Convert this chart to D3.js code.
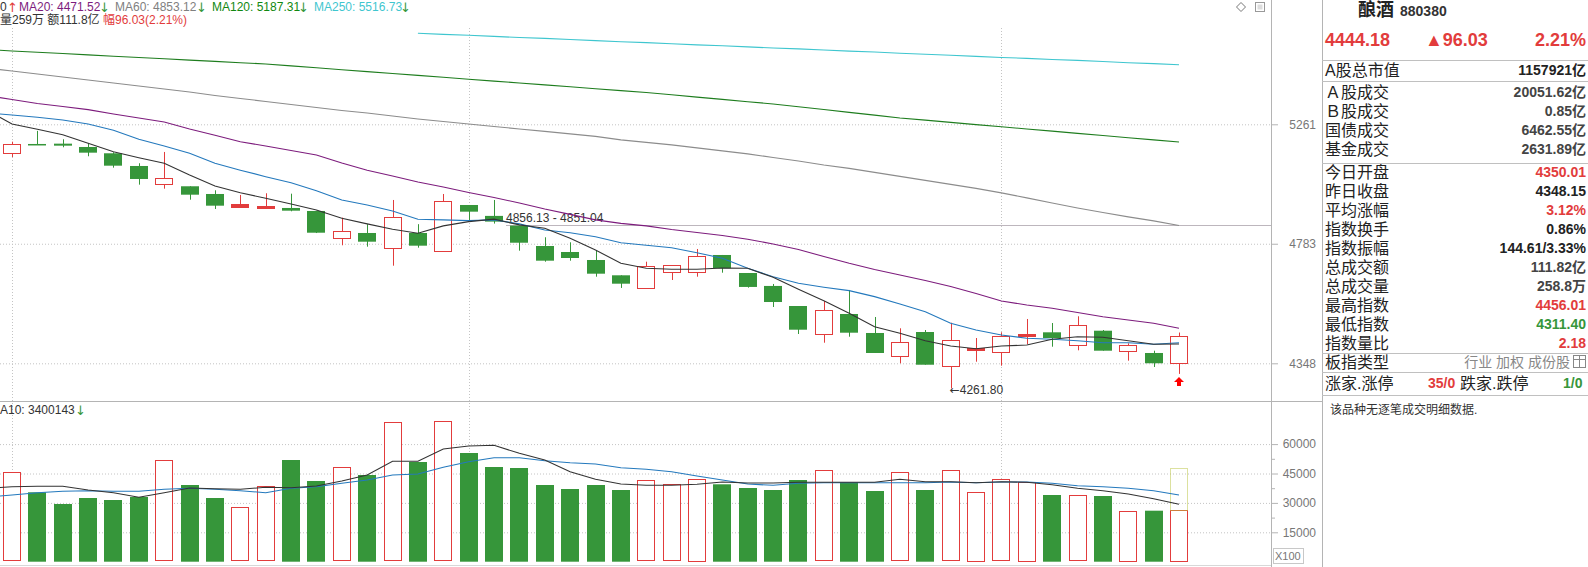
<!DOCTYPE html>
<html>
<head>
<meta charset="utf-8">
<script src="https://cdn.jsdelivr.net/npm/d3@7"></script>
<style>
  body { margin: 0; background: #fff; overflow: hidden; }
  svg { display: block; font-family: "Liberation Sans", "Noto Sans CJK SC", sans-serif; }
</style>
</head>
<body>
<div id="chart"></div>
<script>
const W = 1588, H = 567;

// daily candles, index 0 = oldest visible day, 46 = today
const opens  = [5140.8,5179.1,5180.4,5166.7,5140.8,5089.0,5015.3,5007.3,4976.6,4926.5,4918.6,4921.4,4909.6,4806.1,4824.2,4765.7,4824.2,4754.3,4933.1,4890.4,4852.7,4774.4,4751.6,4721.4,4664.1,4614.6,4673.8,4675.3,4740.3,4672.7,4624.7,4551.3,4448.3,4522.4,4454.4,4370.9,4457.9,4337.6,4394.4,4386.3,4441.2,4456.8,4409.5,4462.5,4389.8,4383.9,4350.01];
const highs  = [5188.6,5233.5,5198.6,5182.0,5144.9,5100.0,5146.2,5007.3,4991.3,4972.7,4979.4,4977.8,4910.5,4883.8,4858.2,4952.9,4858.2,4976.6,4933.1,4952.9,4852.7,4807.7,4788.5,4755.4,4664.1,4715.0,4701.5,4763.0,4740.3,4672.7,4632.0,4551.3,4569.5,4609.9,4511.6,4471.1,4465.0,4491.1,4436.6,4456.8,4504.4,4490.0,4514.1,4465.0,4417.9,4391.9,4456.01];
const lows   = [5125.3,5177.0,5165.5,5128.6,5082.1,5013.7,4997.7,4954.0,4917.4,4922.5,4918.6,4908.4,4824.0,4777.1,4771.8,4700.0,4768.0,4754.3,4872.1,4860.5,4756.6,4715.0,4718.8,4658.9,4617.3,4614.6,4646.7,4658.9,4673.8,4618.4,4547.7,4450.8,4420.0,4441.2,4383.9,4348.0,4343.1,4261.8,4353.5,4339.7,4415.4,4405.9,4393.3,4391.9,4357.1,4335.2,4311.40];
const closes = [5179.1,5177.0,5172.1,5143.3,5090.2,5036.5,5039.3,4973.8,4930.4,4937.1,4928.0,4910.8,4825.3,4831.9,4790.8,4885.4,4775.6,4947.7,4906.9,4868.2,4786.9,4718.8,4728.9,4670.1,4633.0,4697.7,4701.5,4735.4,4690.3,4621.0,4565.8,4466.1,4535.7,4455.4,4383.9,4421.4,4343.1,4428.5,4401.4,4442.7,4449.7,4436.6,4481.8,4391.9,4410.9,4348.15,4444.18];
// volume in units of 100 (axis says X100)
const volumes = [45612,35408,29439,32500,31480,33010,51735,39133,32500,27755,38469,51888,41174,48163,44235,71122,50868,71633,55459,48316,47806,39133,37092,39133,36582,41531,39490,42194,39490,37602,36582,41684,46633,40510,36071,45612,36582,46633,35561,42041,40816,34031,33877,33520,25867,26020,26378];
const todayEstimate = 47653;

// moving averages, first value belongs to the day before the visible range (index -1)
const ma5   = [5321.5,5262.4,5240.2,5217.7,5182.0,5147.4,5122.8,5100.0,5052.6,5008.5,4981.8,4959.6,4937.1,4913.5,4881.5,4859.3,4838.4,4823.0,4851.6,4868.2,4877.6,4855.5,4842.3,4803.8,4759.2,4709.0,4690.3,4686.5,4686.5,4691.4,4690.3,4656.7,4612.3,4570.6,4524.9,4476.8,4453.3,4427.1,4408.4,4398.9,4408.4,4411.9,4432.0,4441.2,4439.1,4427.1,4414.4,4415.4];
const ma10  = [5308.8,5300.3,5290.6,5279.2,5262.4,5236.4,5198.6,5170.9,5140.8,5100.0,5072.0,5045.8,5021.7,4989.7,4952.9,4933.1,4909.6,4877.6,4874.9,4872.1,4874.9,4859.3,4835.7,4825.3,4810.0,4786.9,4777.1,4768.0,4748.9,4727.8,4690.3,4658.9,4634.5,4619.9,4607.4,4585.4,4558.6,4530.7,4488.9,4465.0,4447.3,4435.6,4432.0,4427.1,4420.0,4420.0,4414.4,4420.0];
const ma20  = [5383.4,5366.2,5349.1,5336.4,5322.8,5304.5,5287.6,5270.8,5241.5,5215.6,5188.6,5170.9,5152.3,5133.9,5101.2,5072.0,5048.6,5024.5,5004.5,4982.6,4962.7,4941.0,4917.4,4896.3,4874.9,4861.3,4851.6,4837.7,4826.1,4814.6,4800.0,4782.1,4761.1,4734.6,4709.0,4685.8,4665.3,4644.8,4622.8,4597.1,4569.5,4554.9,4543.0,4527.8,4512.6,4500.8,4488.9,4471.52];
const ma60  = [5502.6,5489.5,5476.4,5463.3,5450.2,5437.2,5424.2,5411.3,5398.4,5383.4,5370.5,5357.7,5344.9,5332.1,5319.4,5308.8,5296.1,5283.4,5272.9,5262.4,5251.9,5241.5,5231.4,5221.0,5210.6,5196.1,5185.7,5175.4,5163.0,5150.7,5138.4,5123.6,5109.4,5093.1,5079.3,5063.1,5047.0,5030.9,5014.9,4998.9,4981.0,4961.2,4941.0,4921.4,4903.7,4886.5,4871.0,4853.12];
const ma120 = [5584.5,5577.8,5572.0,5566.3,5560.5,5554.7,5549.0,5543.2,5537.4,5531.7,5526.0,5520.2,5511.9,5503.5,5495.2,5486.9,5478.5,5470.2,5462.0,5453.7,5445.4,5437.2,5429.0,5420.7,5412.5,5404.3,5396.1,5386.3,5376.4,5366.7,5356.8,5347.0,5335.1,5323.2,5311.3,5299.5,5287.6,5278.4,5269.1,5259.8,5250.6,5241.5,5232.3,5223.1,5213.9,5204.8,5196.1,5187.31];
// ma250 only starts at day 16
const ma250 = [5657,5652,5648,5643,5638,5634,5629,5624,5619,5615,5610,5605,5601,5596,5591,5587,5582,5577,5573,5568,5563,5559,5554,5549,5545,5540,5536,5531,5526,5522,5516.73];
const volMa5  = [37347,38265,38469,38469,36581,35204,32857,35204,37602,37245,36938,37959,37755,38622,41173,44234,51224,51224,57500,59030,59387,55306,51887,45918,42040,39643,38979,38979,39489,40663,40153,40153,40510,40510,40510,40510,42040,40816,40816,40306,40816,40510,39285,37449,36224,34541,32143,29285];
const volMa10 = [33010,34030,35204,35918,36224,35918,35918,36938,37449,36938,36224,35204,37449,38265,40000,41683,44234,44745,48163,51020,53061,53061,51530,50510,49847,47959,47142,45918,43724,41683,39643,38979,40000,40306,40306,40306,40306,40306,40663,40306,40663,40663,40000,38775,38265,37449,36224,34001];

const priceTicks = [4348, 4783, 5261];
const volTicks = [15000, 30000, 45000, 60000];
const volMinorTicks = [22500, 37500, 52500];
const monthStarts = [0, 18, 39];

const UP = "#e23c3c", DOWN = "#36963a";
const maColors = { ma5: "#333333", ma10: "#2479bd", ma20: "#7d1c7d", ma60: "#8c8c8c", ma120: "#1e7d1e", ma250: "#3fc6cf" };

const plotRight = 1271, panelLeft = 1322, splitY = 401;

const svg = d3.select("#chart").append("svg")
    .attr("width", W)
    .attr("height", H);

const x = d3.scaleLinear().domain([0, 46]).range([12, 1179]);
const y = d3.scaleLog().domain([4348, 5261]).range([363.3, 124.3]);
const yVol = d3.scaleLinear().domain([0, 60000]).range([561.7, 444.1]);
const bodyW = 18;

const defs = svg.append("defs");
defs.append("clipPath").attr("id", "clipPrice")
  .append("rect").attr("x", 0).attr("y", 0).attr("width", plotRight).attr("height", splitY);
defs.append("clipPath").attr("id", "clipVol")
  .append("rect").attr("x", 0).attr("y", splitY).attr("width", plotRight).attr("height", H - splitY);

// ---------- grid ----------
const gridStyle = sel => sel.selectAll("line")
    .style("stroke", "#c4c4c4")
    .style("stroke-dasharray", "1,2");

svg.append("g")
    .call(d3.axisLeft(y).tickValues(priceTicks).tickSize(-plotRight).tickFormat(""))
    .call(g => g.select(".domain").remove())
    .call(gridStyle);

svg.append("g")
    .call(d3.axisLeft(yVol).tickValues(volTicks).tickSize(-plotRight).tickFormat(""))
    .call(g => g.select(".domain").remove())
    .call(gridStyle);

monthStarts.forEach(i => {
  const xi = Math.round(x(i)) + 0.5;
  svg.append("line")
    .attr("x1", xi).attr("x2", xi).attr("y1", 28).attr("y2", 562)
    .style("stroke", "#c4c4c4").style("stroke-dasharray", "1,2");
});

// frame lines
svg.append("line").attr("x1", plotRight + 0.5).attr("x2", plotRight + 0.5).attr("y1", 0).attr("y2", H)
  .style("stroke", "#b4b4b4");
svg.append("line").attr("x1", panelLeft + 0.5).attr("x2", panelLeft + 0.5).attr("y1", 0).attr("y2", H)
  .style("stroke", "#b4b4b4");
svg.append("line").attr("x1", 0).attr("x2", panelLeft).attr("y1", splitY + 0.5).attr("y2", splitY + 0.5)
  .style("stroke", "#b4b4b4");
svg.append("line").attr("x1", 0).attr("x2", plotRight).attr("y1", 565.5).attr("y2", 565.5)
  .style("stroke", "#d8d8d8");

// user level line 4856.13 - 4851.04
svg.append("line")
  .attr("x1", x(19) + 12).attr("x2", plotRight)
  .attr("y1", Math.round(y(4853.6)) + 0.5).attr("y2", Math.round(y(4853.6)) + 0.5)
  .style("stroke", "#bdb6bd");
svg.append("text")
  .attr("x", x(19) + 12).attr("y", y(4853.6) - 8)
  .attr("dy", "0.35em")
  .style("font-size", "12px").style("fill", "#333")
  .text("4856.13 - 4851.04");

// ---------- axes ----------
const priceAxis = svg.append("g")
  .attr("transform", `translate(${plotRight},0)`)
  .call(d3.axisRight(y).tickValues(priceTicks).tickSize(7).tickFormat(d3.format("d")));
const volAxis = svg.append("g")
  .attr("transform", `translate(${plotRight},0)`)
  .call(d3.axisRight(yVol).tickValues(volTicks).tickSize(7).tickFormat(d3.format("d")));
svg.append("g")
  .attr("transform", `translate(${plotRight},0)`)
  .call(d3.axisRight(yVol).tickValues(volMinorTicks).tickSize(4).tickFormat(""))
  .call(g => g.select(".domain").remove())
  .selectAll("line").style("stroke", "#b4b4b4");

[priceAxis, volAxis].forEach(ax => {
  ax.select(".domain").remove();
  ax.selectAll("line").style("stroke", "#b4b4b4");
  ax.selectAll("text")
    .attr("x", 45)
    .attr("text-anchor", "end")
    .style("font-family", "Liberation Sans, sans-serif")
    .style("font-size", "12px")
    .style("fill", "#777");
});

svg.append("rect").attr("x", 1273.5).attr("y", 548.5).attr("width", 30).attr("height", 15)
  .style("fill", "none").style("stroke", "#c8c8c8");
svg.append("text").attr("x", 1275).attr("y", 556).attr("dy", "0.35em")
  .style("font-size", "11px").style("fill", "#777").text("X100");

// ---------- candles ----------
const candles = svg.append("g").attr("clip-path", "url(#clipPrice)");
d3.range(opens.length).forEach(i => {
  const up = closes[i] >= opens[i];
  const col = up ? UP : DOWN;
  const cx = Math.round(x(i)) + 0.5;
  candles.append("line")
    .attr("x1", cx).attr("x2", cx)
    .attr("y1", y(highs[i])).attr("y2", y(lows[i]))
    .style("stroke", col);
  const top = y(Math.max(opens[i], closes[i]));
  const bot = y(Math.min(opens[i], closes[i]));
  if (up) {
    candles.append("rect")
      .attr("x", Math.round(x(i) - bodyW / 2) + 0.5).attr("y", Math.round(top) + 0.5)
      .attr("width", bodyW - 1).attr("height", Math.max(1, Math.round(bot - top)))
      .style("fill", bot - top < 3 ? col : "#fff").style("stroke", col);
  } else {
    candles.append("rect")
      .attr("x", Math.round(x(i) - bodyW / 2)).attr("y", top)
      .attr("width", bodyW).attr("height", Math.max(1.5, bot - top))
      .style("fill", col);
  }
});

// ---------- moving averages ----------
const maLine = d3.line().x((d, i) => x(i - 1)).y(d => y(d));
const maGroup = svg.append("g").attr("clip-path", "url(#clipPrice)").style("fill", "none");
[["ma120", ma120], ["ma60", ma60], ["ma20", ma20], ["ma10", ma10], ["ma5", ma5]].forEach(([k, data]) => {
  maGroup.append("path").attr("d", maLine(data))
    .style("stroke", maColors[k]).style("stroke-width", 1.1);
});
maGroup.append("path")
  .attr("d", d3.line().x((d, i) => x(i + 16)).y(d => y(d))(ma250))
  .style("stroke", maColors.ma250).style("stroke-width", 1.1);

// low marker and today's arrow
svg.append("text")
  .attr("x", x(37) - 1).attr("y", y(4261.8) + 1).attr("dy", "0.35em")
  .style("font-size", "12px").style("fill", "#333")
  .call(t => t.append("tspan").style("font-family", "DejaVu Sans").text("\u2190"))
  .call(t => t.append("tspan").text("4261.80"));
const ax46 = x(46);
svg.append("path")
  .attr("d", `M${ax46},377 L${ax46 + 5},382 L${ax46 + 2},382 L${ax46 + 2},386 L${ax46 - 2},386 L${ax46 - 2},382 L${ax46 - 5},382 Z`)
  .style("fill", "#f00");

// ---------- volume ----------
const volG = svg.append("g").attr("clip-path", "url(#clipVol)");
volumes.forEach((v, i) => {
  const up = closes[i] >= opens[i];
  const top = yVol(v);
  if (up) {
    volG.append("rect")
      .attr("x", Math.round(x(i) - bodyW / 2) + 0.5).attr("y", Math.round(top) + 0.5)
      .attr("width", bodyW - 1).attr("height", Math.round(yVol(0) - top) - 1)
      .style("fill", "#fff").style("stroke", UP);
  } else {
    volG.append("rect")
      .attr("x", Math.round(x(i) - bodyW / 2)).attr("y", top)
      .attr("width", bodyW).attr("height", yVol(0) - top)
      .style("fill", DOWN);
  }
});
volG.append("rect")
  .attr("x", Math.round(x(46) - bodyW / 2) + 0.5).attr("y", Math.round(yVol(todayEstimate)) + 0.5)
  .attr("width", bodyW - 1).attr("height", Math.round(yVol(volumes[46]) - yVol(todayEstimate)))
  .style("fill", "none").style("stroke", "#b9c23e").style("stroke-dasharray", "1,1");

const volLine = d3.line().x((d, i) => x(i - 1)).y(d => yVol(d));
volG.append("path").attr("d", volLine(volMa10)).style("fill", "none").style("stroke", maColors.ma10).style("stroke-width", 1.1);
volG.append("path").attr("d", volLine(volMa5)).style("fill", "none").style("stroke", maColors.ma5).style("stroke-width", 1.1);

// ---------- header texts ----------
function label(xp, yp, str, color, size, weight, anchor) {
  return svg.append("text")
    .attr("x", xp).attr("y", yp).attr("dy", "0.35em")
    .attr("text-anchor", anchor || "start")
    .style("font-size", (size || 12) + "px")
    .style("font-weight", weight || "normal")
    .style("fill", color || "#333")
    .text(str);
}
function arrow(xp, yp, up) {
  return label(xp, yp, up ? "\u2191" : "\u2193", up ? UP : DOWN, 13)
    .style("font-family", "DejaVu Sans");
}
label(0, 7, "0", "#333");
arrow(7, 7, true);
label(19, 7, "MA20: 4471.52", maColors.ma20);
arrow(99, 7, false);
label(115, 7, "MA60: 4853.12", "#808080");
arrow(196, 7, false);
label(212, 7, "MA120: 5187.31", "#118811");
arrow(298, 7, false);
label(314, 7, "MA250: 5516.73", maColors.ma250);
arrow(400, 7, false);

const line2 = label(0, 20, "", "#333");
line2.append("tspan").text("量259万 额111.8亿 ");
line2.append("tspan").style("fill", UP).text("幅96.03(2.21%)");

label(0, 410, "A10: 3400143", "#333");
arrow(75, 410, false);

// small icons at the top right of the chart
svg.append("path").attr("d", "M1241,2.5 L1245.5,7 L1241,11.5 L1236.5,7 Z")
  .style("fill", "none").style("stroke", "#777");
svg.append("rect").attr("x", 1255.5).attr("y", 2.5).attr("width", 9).attr("height", 9)
  .style("fill", "none").style("stroke", "#999");
svg.append("rect").attr("x", 1257.5).attr("y", 4.5).attr("width", 5).attr("height", 5)
  .style("fill", "#ddd");

// ---------- right info panel ----------
const sepY = [60, 81, 163, 353, 372, 395];
sepY.forEach(s => svg.append("line")
  .attr("x1", panelLeft).attr("x2", W).attr("y1", s + 0.5).attr("y2", s + 0.5)
  .style("stroke", "#c0c0c0"));

label(1358, 10, "酿酒", "#222", 18, "bold");
label(1400, 11, "880380", "#333", 14, "bold");
label(1325, 40, "4444.18", UP, 18, "bold");
label(1425, 40, "\u25B296.03", UP, 18, "bold");
label(1586, 40, "2.21%", UP, 18, "bold", "end");

const statLabels = ["A股总市值", "Ａ股成交", "Ｂ股成交", "国债成交", "基金成交", "今日开盘", "昨日收盘", "平均涨幅", "指数换手", "指数振幅", "总成交额", "总成交量", "最高指数", "最低指数", "指数量比"];
const statValues = ["1157921亿", "20051.62亿", "0.85亿", "6462.55亿", "2631.89亿", "4350.01", "4348.15", "3.12%", "0.86%", "144.61/3.33%", "111.82亿", "258.8万", "4456.01", "4311.40", "2.18"];
const statColors = ["#222", "#444", "#444", "#444", "#444", UP, "#222", UP, "#222", "#222", "#444", "#444", UP, DOWN, UP];
const statY = [70, 92, 111, 130, 149, 172, 191, 210, 229, 248, 267, 286, 305, 324, 343];

statLabels.forEach((t, i) => {
  label(1325, statY[i], t, "#222", 16);
  label(1586, statY[i], statValues[i], statColors[i], 14, "bold", "end");
});

label(1325, 362, "板指类型", "#222", 16);
label(1570, 362, "行业 加权 成份股", "#888", 14, "normal", "end");
svg.append("rect").attr("x", 1573.5).attr("y", 355.5).attr("width", 12).attr("height", 12)
  .style("fill", "none").style("stroke", "#888");
svg.append("line").attr("x1", 1574).attr("x2", 1586).attr("y1", 359.5).attr("y2", 359.5).style("stroke", "#888");
svg.append("line").attr("x1", 1579.5).attr("x2", 1579.5).attr("y1", 356).attr("y2", 368).style("stroke", "#888");

label(1325, 383, "涨家.涨停", "#222", 16);
label(1428, 383, "35/0", UP, 14, "bold");
label(1460, 383, "跌家.跌停", "#222", 16);
label(1563, 383, "1/0", DOWN, 14, "bold");

label(1330, 410, "该品种无逐笔成交明细数据.", "#333", 12);
</script>
</body>
</html>
